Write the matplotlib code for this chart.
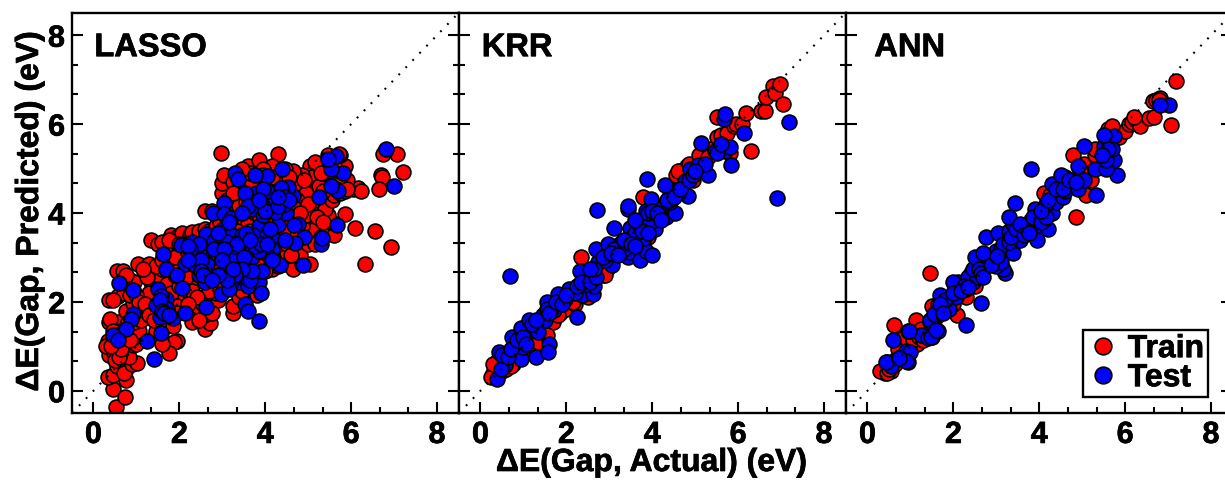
import matplotlib
matplotlib.use("Agg")
import matplotlib.pyplot as plt
import matplotlib.patheffects as pe
from matplotlib.ticker import MultipleLocator
from matplotlib.lines import Line2D

plt.rcParams['font.family'] = ['Liberation Sans', 'DejaVu Sans']
plt.rcParams['font.weight'] = 'bold'

PANELS = ["LASSO", "KRR", "ANN"]
LIMS = [-0.5, 8.5]
XLABEL = "\u0394E(Gap, Actual) (eV)"
YLABEL = "\u0394E(Gap, Predicted) (eV)"

LASSO_TRAIN = [(0.53,-0.37),(0.46,0.03),(0.74,-0.14),(0.34,0.31),(0.76,0.25),(0.45,0.35),(0.55,0.55),(0.75,0.5),(0.7,0.4),(0.4,0.8),
(0.35,0.8),(0.47,0.85),(0.58,0.95),(0.9,0.6),(1.02,0.63),(0.83,0.75),(0.33,1.13),(0.42,1.1),(0.52,1.05),(0.93,1.02),
(1.0,1.05),(0.95,1.2),(0.88,1.35),(1.05,1.35),(0.37,1.55),(0.58,1.55),(0.39,1.62),(0.72,1.4),(0.65,1.3),(0.35,2.04),
(0.58,2.13),(0.75,1.8),(0.92,1.98),(1.17,1.9),(1.12,1.75),(0.55,2.7),(0.68,2.7),(0.85,2.5),(0.95,2.45),(1.03,2.85),
(1.3,2.85),(1.35,3.4),(1.35,2.45),(1.5,3.3),(1.3,2.2),(1.55,2.55),(1.72,2.4),(1.8,2.2),(1.5,1.9),(1.7,1.6),
(1.85,1.45),(1.95,1.12),(1.88,1.1),(1.75,0.85),(1.6,1.05),(1.45,1.35),(2.3,1.55),(2.6,1.38),(2.72,1.53),(2.58,1.7),
(2.4,1.9),(2.55,1.95),(2.6,2.1),(2.9,2.05),(2.85,2.2),(2.1,2.05),(2.0,2.35),(2.7,2.25),(3.25,1.75),(3.25,1.9),
(3.4,2.1),(3.5,2.3),(1.8,3.5),(1.95,3.45),(2.05,3.55),(2.25,3.5),(2.3,3.45),(2.3,3.58),(2.5,3.55),(2.45,3.6),
(2.6,3.65),(1.85,3.25),(1.95,3.15),(2.1,3.0),(2.0,2.85),(2.2,2.75),(2.55,2.7),(2.7,2.6),(2.8,3.05),(2.65,3.2),
(2.6,4.05),(2.75,4.05),(2.55,3.35),(3.0,4.45),(3.0,4.67),(3.05,4.85),(3.1,4.3),(3.2,3.9),(3.3,4.2),(3.4,4.15),
(3.4,3.9),(3.6,3.75),(3.65,3.6),(3.7,3.3),(3.3,3.1),(3.55,2.85),(3.65,2.65),(3.75,2.2),(3.8,2.15),(4.0,2.9),
(4.15,2.75),(4.3,2.8),(4.45,2.85),(4.65,2.75),(4.85,2.85),(5.05,2.85),(4.3,3.0),(4.5,3.1),(4.75,3.15),(4.8,3.05),
(4.3,3.3),(4.6,3.4),(4.9,3.4),(5.05,3.7),(5.15,3.65),(5.45,3.55),(5.6,3.5),(5.3,3.45),(5.5,3.8),(5.65,3.75),
(5.45,3.95),(5.1,4.15),(5.2,4.3),(5.4,4.1),(5.55,4.3),(5.6,4.4),(5.75,4.45),(5.85,3.98),(6.05,4.55),(6.15,4.57),
(6.22,4.5),(5.9,4.75),(5.75,4.65),(5.85,5.05),(5.75,5.3),(5.5,5.25),(5.45,5.3),(5.2,5.0),(5.05,5.05),(5.0,4.6),
(5.1,4.8),(5.4,4.75),(5.5,4.95),(4.85,4.85),(4.8,4.6),(4.95,4.45),(4.75,4.3),(4.65,4.95),(4.45,5.0),(4.3,5.33),
(4.15,5.05),(3.8,5.1),(3.6,5.05),(3.85,5.2),(3.95,5.0),(3.55,4.75),(3.5,4.55),(3.9,4.2),(4.0,4.6),(4.6,3.8),
(4.85,3.7),(4.95,3.95),(3.55,4.25),(3.7,4.65),(2.97,5.36),(5.72,5.33),(7.07,5.33),(6.78,5.40),(7.21,4.93),(6.70,4.85),
(6.72,4.80),(6.66,4.53),(6.09,3.66),(6.55,3.60),(6.32,2.85),(6.92,3.23),(2.25,2.3),(2.35,2.5),(1.95,1.9),(1.6,2.75),
(0.5,0.7),(0.6,0.75),(0.65,0.95),(0.85,1.15),(0.8,1.55),(0.95,1.55),(0.45,1.35),(0.55,1.25),(0.3,1.0),(0.4,1.0),
(0.7,2.2),(0.85,2.15),(1.0,2.15),(1.05,2.0),(0.45,2.05),(0.7,2.45),(0.75,2.6),(1.1,1.6),(1.2,1.95),(1.3,1.7),
(1.4,1.6),(1.25,2.55),(1.45,2.8),(1.15,2.75),(1.6,2.95),(1.7,3.1),(1.6,3.35),(1.75,3.4),(1.9,3.0),(2.0,3.3),
(2.15,3.3),(2.2,3.1),(2.35,3.2),(1.9,2.6),(2.15,2.55),(2.3,2.25),(2.4,2.1),(2.2,1.95),(1.95,1.75),(2.45,1.6),
(2.75,1.75),(2.95,2.3),(3.05,2.4),(3.0,2.65),(2.8,2.7),(2.6,2.9),(2.85,3.4),(2.7,3.6),(2.85,3.7),(2.95,3.8),
(2.9,3.45),(3.15,3.6),(3.35,3.6),(3.5,3.2),(3.3,2.95),(3.45,2.85),(3.45,2.25),(3.6,2.5),(3.8,2.85),(3.95,3.35),
(3.85,3.5),(3.75,4.0),(3.85,3.95),(4.1,3.8),(4.2,3.6),(4.35,3.5),(4.45,3.55),(4.5,3.3),(4.6,3.05),(4.15,3.0),
(4.0,2.7),(4.75,3.5),(5.0,3.3),(5.15,3.3),(5.2,3.9),(5.35,3.8),(5.0,4.2),(4.65,4.15),(4.8,4.0),(4.35,4.75),
(4.15,4.8),(3.95,4.85),(3.65,4.9),(3.45,5.0),(3.25,4.7),(3.25,4.45),(4.55,4.8),(4.9,4.75),(5.25,4.6),(5.35,4.5),
(5.65,4.55),(5.85,4.5),(5.9,4.55),(5.6,5.05),(5.35,5.1),(5.15,5.15),(5.3,4.9),(6.75,5.33)]
LASSO_TEST = [(6.81,5.43),(6.99,4.60),(5.70,4.50),(5.66,3.73),(5.80,4.91),(5.52,5.00),(5.64,5.29),(5.45,5.21),(5.54,4.61),(5.25,4.36),
(5.30,3.31),(5.33,3.43),(4.89,2.83),(4.91,3.46),(4.77,3.76),(4.66,3.72),(4.70,3.32),(4.35,2.84),(4.30,3.72),(4.49,4.00),
(4.45,4.20),(4.23,4.03),(4.10,4.18),(4.22,4.32),(4.65,4.38),(4.53,4.59),(4.37,4.57),(4.38,4.99),(4.05,4.83),(3.76,4.86),
(3.79,4.44),(3.54,4.46),(3.30,4.91),(3.37,4.76),(3.70,4.08),(3.05,4.23),(2.78,4.00),(3.03,3.97),(3.20,3.88),(3.02,3.65),
(2.63,3.52),(2.80,3.36),(3.22,3.51),(3.45,3.50),(3.58,3.32),(3.85,3.71),(3.72,3.50),(4.04,3.50),(4.22,3.40),(4.16,3.20),
(4.02,3.09),(3.68,3.01),(3.85,3.15),(3.42,3.35),(3.00,3.00),(3.19,2.80),(2.30,3.34),(2.04,3.29),(2.45,3.15),(2.40,2.98),
(2.12,2.85),(2.45,2.60),(1.62,3.07),(1.70,2.74),(1.95,2.60),(2.05,2.32),(2.60,2.45),(2.64,2.85),(3.49,2.59),(3.40,2.45),
(3.25,2.52),(3.60,2.35),(3.85,2.45),(3.93,2.70),(3.91,2.20),(2.96,2.18),(3.15,2.30),(1.50,2.30),(1.45,1.93),(1.68,2.07),
(1.57,2.13),(1.72,1.85),(1.85,1.63),(1.55,1.65),(2.13,1.76),(2.63,1.88),(3.52,1.95),(3.60,1.80),(3.86,1.58),(1.57,1.30),
(1.25,1.13),(1.41,0.72),(0.92,1.73),(0.88,1.62),(0.93,2.27),(0.59,2.43),(0.75,1.40),(0.46,1.25),(0.57,1.15),
(3.2,3.0),(3.3,3.25),(3.1,3.35),(3.5,3.0),(3.75,3.25),(3.9,3.3),(4.05,3.3),(4.1,3.65),(3.95,3.95),(4.0,4.05),
(4.3,4.15),(4.45,4.35),(4.55,4.3),(3.35,3.3),(3.55,3.55),(3.65,3.4),(2.45,3.3),(2.25,3.2),(2.2,3.25),(2.35,2.85),
(2.5,2.95),(2.5,2.7),(2.55,2.6),(2.8,3.2),(3.05,3.2),(3.15,3.8),(1.55,2.05),(1.6,1.8),(1.65,1.75),(1.75,1.7),
(3.55,2.55),(3.65,2.5),(3.7,2.7),(3.45,2.75),(4.45,3.4),(3.3,2.6),(3.1,2.5),(3.0,2.95),(2.9,3.55),(3.25,2.75),
(4.05,4.5),(3.95,4.55),(4.3,4.35),(3.6,4.15),(3.45,4.0),(3.85,4.3),(2.9,2.6),(2.75,2.5),(2.2,2.95),(4.15,2.95)]

KRR_TRAIN = [(0.3,0.4),(0.35,0.55),(0.4,0.7),(0.5,0.45),(0.6,0.5),(0.65,0.7),(0.75,0.6),(0.85,0.95),(1.0,1.1),(1.15,1.15),
(1.25,1.2),(1.4,1.2),(1.5,1.45),(1.7,1.55),(1.85,1.75),(2.0,1.85),(2.2,1.95),(2.45,2.2),(2.55,2.35),(2.85,2.6),
(2.95,2.75),(2.33,3.0),(3.3,3.2),(3.6,3.5),(3.78,4.37),(4.3,4.1),(4.5,4.6),(4.55,4.85),(4.65,4.95),(4.8,5.05),
(4.95,4.75),(5.25,5.35),(5.35,5.45),(5.5,5.7),(5.6,5.75),(5.75,5.8),(5.9,5.95),(5.95,6.0),(6.08,6.0),(6.18,6.26),
(6.53,6.3),(6.62,6.3),(6.66,6.6),(6.81,6.85),(6.85,6.7),(6.97,6.90),(7.05,6.46),(6.31,5.39),(5.5,6.15),(5.8,5.35),
(0.25,0.3),(0.3,0.6),(0.55,0.55),(0.7,0.55),(0.95,0.9),(1.2,0.95),(1.35,1.1),(1.55,1.25),(1.8,1.7),(2.15,2.0),
(2.5,2.1),(2.9,2.6),(3.9,3.45),(4.4,4.55),(4.6,4.95),(4.85,5.1),(5.1,5.3),(5.3,5.25)]
KRR_TEST = [(0.38,0.27),(0.42,0.88),(0.56,0.58),(0.48,0.49),(0.74,1.21),(0.81,0.93),(0.95,1.41),(1.12,1.6),(0.95,0.72),(0.99,0.98),
(1.34,1.32),(1.45,1.71),(1.55,2.0),(1.72,1.81),(1.8,2.18),(1.96,2.07),(2.05,2.29),(2.36,2.16),(2.62,2.18),(2.42,2.55),
(2.31,2.7),(2.73,2.89),(2.7,3.19),(3.06,2.82),(3.2,3.28),(2.97,3.3),(3.11,3.66),(3.43,3.0),(3.45,3.13),(3.49,3.66),
(3.71,2.94),(3.86,3.15),(3.99,3.06),(3.81,3.43),(3.47,3.42),(3.24,3.12),(4.02,3.84),(3.86,4.05),(4.06,3.64),(4.21,4.13),
(4.33,3.9),(4.52,4.01),(4.29,4.63),(3.98,4.31),(4.41,4.24),(4.76,4.71),(4.73,4.46),(4.83,4.39),(4.88,4.99),(5.07,5.08),
(5.3,4.86),(5.22,5.1),(5.45,5.4),(5.69,5.39),(5.8,5.48),(0.68,2.59),(2.71,4.07),(6.91,4.33),(7.19,6.04),(5.83,5.07),
(6.14,5.80),(5.67,6.11),(5.70,6.22),(5.14,5.57),(3.88,4.76),(3.43,4.09),(3.43,4.15),(2.24,1.67),(1.59,1.06),(1.30,0.77),
(1.57,0.87),(2.5,2.45),(2.6,2.6),(2.65,2.35),(1.5,1.6),(1.65,1.85),(2.2,2.2),(2.45,2.4),(3.3,3.35),(3.6,3.55),
(3.7,3.75),(3.95,3.8),(4.15,3.95),(4.4,4.3),(4.6,4.45),(4.95,4.85),(3.1,3.2),(3.35,3.2),(2.9,2.95),(0.62,0.8),
(0.5,0.8),(0.65,0.75),(0.7,0.95),(0.85,1.15),(1.0,1.2),(1.05,1.05),(1.2,1.5),(1.3,1.6),(1.55,1.85),(1.6,1.75),
(1.75,2.0),(1.9,1.95),(2.0,2.15),(2.25,2.35),(2.35,2.45),(2.55,2.45),(2.7,2.55),(2.65,2.75),(2.55,2.75),(2.85,3.0),
(3.05,3.1),(3.2,3.05),(3.35,3.4),(3.5,3.3),(3.6,3.25),(3.75,3.6),(3.9,3.55),(3.6,3.85),(3.9,4.0),(4.0,4.05),
(4.1,4.0),(4.2,3.85),(4.35,4.3),(4.5,4.35),(4.65,4.55),(4.85,4.75),(4.95,4.85),(5.0,4.95),(5.5,5.35),(5.6,5.55)]

ANN_TRAIN = [(0.35,0.45),(0.4,0.4),(0.45,0.55),(0.55,0.45),(0.61,1.48),(0.65,0.6),(0.75,0.9),(0.8,1.1),(0.95,0.9),(1.0,1.3),
(1.13,1.60),(1.15,1.05),(1.25,1.4),(1.45,2.65),(1.5,1.9),(1.6,1.65),(1.75,1.85),(2.08,1.71),(2.3,2.1),(2.4,2.65),
(2.5,2.35),(3.3,3.3),(3.9,3.8),(4.85,3.92),(4.79,5.30),(4.1,4.45),(4.3,4.3),(4.2,4.1),(5.05,5.1),(5.15,4.9),
(5.3,5.3),(5.2,4.75),(5.1,4.4),(5.6,5.9),(5.85,5.7),(6.0,5.85),(6.1,6.0),(6.15,6.05),(6.25,6.1),(6.35,5.95),
(6.55,6.13),(6.67,6.17),(6.64,6.52),(6.82,6.58),(6.72,6.55),(7.19,6.97),(7.07,5.99),(4.6,4.8),(4.7,4.6),(4.95,4.95),
(0.3,0.45),(0.45,0.4),(0.5,0.5),(0.65,0.7),(0.7,0.95),(0.85,1.2),(1.05,1.15),(1.2,1.2),(1.3,1.15),(1.45,1.55),
(1.55,1.7),(1.65,1.95),(2.0,1.95),(2.3,2.3),(2.5,2.6),(4.25,4.4),(4.45,4.65),(5.3,5.45),(5.6,5.35),(5.7,5.95),
(6.2,6.15),(6.8,6.55)]
ANN_TEST = [(3.80,4.99),(3.43,4.22),(2.30,1.47),(2.64,1.97),(0.59,1.15),(7.02,6.43),(6.82,6.43),(5.80,4.86),(5.31,4.40),(0.45,0.65),
(0.55,0.55),(0.75,0.75),(0.9,0.9),(0.95,0.65),(0.98,0.87),(0.95,1.35),(1.25,1.25),(1.4,1.18),(1.5,1.2),(1.65,1.35),
(1.45,1.6),(1.6,1.7),(1.55,1.72),(1.9,1.85),(1.7,2.15),(2.05,2.1),(2.15,2.25),(2.1,2.45),(2.0,2.45),(2.45,2.45),
(2.35,2.55),(2.55,2.55),(2.45,2.75),(2.5,3.0),(2.8,2.85),(3.2,2.65),(3.15,2.75),(2.9,3.05),(3.0,3.15),(2.7,3.1),
(3.1,3.2),(3.25,3.2),(3.4,3.1),(2.75,3.45),(3.05,3.55),(3.3,3.6),(3.5,3.4),(3.55,3.4),(3.4,3.75),(3.3,3.9),
(3.9,3.6),(3.95,3.4),(4.2,3.65),(3.8,3.85),(4.1,3.85),(4.0,4.0),(3.9,4.1),(4.3,4.0),(4.15,4.2),(4.4,4.25),
(4.55,4.35),(4.3,4.65),(4.5,4.85),(4.6,4.5),(4.9,4.55),(5.05,4.75),(4.9,5.05),(5.3,5.0),(5.05,5.5),(5.5,5.5),
(5.55,5.7),(5.75,5.73),(5.6,5.2),(5.65,5.15),(5.75,5.2),(5.55,5.0),(2.25,2.3),(1.8,2.05),(3.6,3.55),(3.7,3.7),
(1.7,1.95),(1.75,1.75),(2.0,2.2),(2.25,2.35),(2.6,2.75),(2.65,2.65),(2.7,2.55),(3.0,2.8),(3.1,2.9),(3.15,3.3),
(3.3,3.35),(3.35,3.45),(3.45,3.65),(3.55,3.75),(3.65,3.5),(3.75,3.55),(3.85,3.9),(4.05,3.8),(4.15,3.9),(4.05,4.05),
(4.2,4.3),(4.4,4.55),(4.55,4.55),(4.7,4.75),(4.85,4.7),(5.55,5.2),(5.7,5.45),(5.6,5.45),(5.45,5.3),(5.5,5.75),
(0.44,0.64),(0.89,0.67),(0.73,0.73),(0.96,1.34),(1.47,1.21),(1.59,1.36),(2.17,2.25),(2.35,2.33),(2.87,2.84),(3.02,3.03)]

TRAIN = [LASSO_TRAIN, KRR_TRAIN, ANN_TRAIN]
TEST = [LASSO_TEST, KRR_TEST, ANN_TEST]

W, H = 1225, 481
fig = plt.figure(figsize=(W / 100, H / 100), dpi=100)
lefts = [72, 459, 846]
width = 386.5
top, bottom = 14, 414
ms = 10.7
stroke = [pe.withStroke(linewidth=0.5, foreground='black')]
axes = []
for i, name in enumerate(PANELS):
    ax = fig.add_axes([lefts[i] / W, 1 - bottom / H, width / W, (bottom - top) / H])
    axes.append(ax)
    ax.scatter(*zip(*TRAIN[i]), s=ms**2, c='#ff0000', edgecolors='black', linewidths=1.2, zorder=2)
    ax.scatter(*zip(*TEST[i]), s=ms**2, c='#0000ff', edgecolors='black', linewidths=1.2, zorder=3)
    ax.plot(LIMS, LIMS, color='black', lw=1.5, ls=(0, (0.9, 3.9)), zorder=5)
    ax.set_xlim(LIMS)
    ax.set_ylim(LIMS)
    ax.xaxis.set_major_locator(MultipleLocator(2))
    ax.yaxis.set_major_locator(MultipleLocator(2))
    ax.xaxis.set_minor_locator(MultipleLocator(2 / 3))
    ax.yaxis.set_minor_locator(MultipleLocator(2 / 3))
    ax.tick_params(which='major', direction='in', length=8, width=1.5, top=False, right=True,
                   labelsize=22, labelleft=(i == 0))
    ax.tick_params(which='minor', direction='in', length=4.5, width=1.5, top=False, bottom=True,
                   left=True, right=True)
    ax.tick_params(axis='y', which='major', pad=5)
    ax.tick_params(axis='x', which='major', pad=5)
    for lab in ax.get_xticklabels() + ax.get_yticklabels():
        lab.set_path_effects(stroke)
    for s in ax.spines.values():
        s.set_linewidth(1.7)
    t = ax.text(0.0, 7.72, name, fontsize=23.5, fontweight='bold', ha='left', va='center', zorder=6)
    t.set_path_effects(stroke)

axes[0].texts[0].set_x(0.02)
axes[1].texts[0].set_x(0.03)
axes[2].texts[0].set_x(0.16)

fig.text(652 / W, 1 - 464 / H, XLABEL, fontsize=23, fontweight='bold', ha='center', va='center', path_effects=stroke)
fig.text(30 / W, 1 - 212 / H, YLABEL, fontsize=23, fontweight='bold', ha='center', va='center', rotation=90, path_effects=stroke)

handles = [Line2D([], [], ls='none', marker='o', ms=12, mfc='#ff0000', mec='black', mew=1.2, label='Train'),
           Line2D([], [], ls='none', marker='o', ms=12, mfc='#0000ff', mec='black', mew=1.2, label='Test')]
leg = fig.legend(handles=handles, loc='upper left', bbox_to_anchor=(1083 / W, 1 - 331 / H),
                 bbox_transform=fig.transFigure, fontsize=23, frameon=True, fancybox=False,
                 edgecolor='black', framealpha=1, borderpad=0.13, labelspacing=-0.03,
                 handlelength=0.97, handletextpad=0.3, borderaxespad=0)
leg.get_frame().set_linewidth(1.7)
for t in leg.get_texts():
    t.set_path_effects(stroke)

fig.savefig('out.png', dpi=100)
